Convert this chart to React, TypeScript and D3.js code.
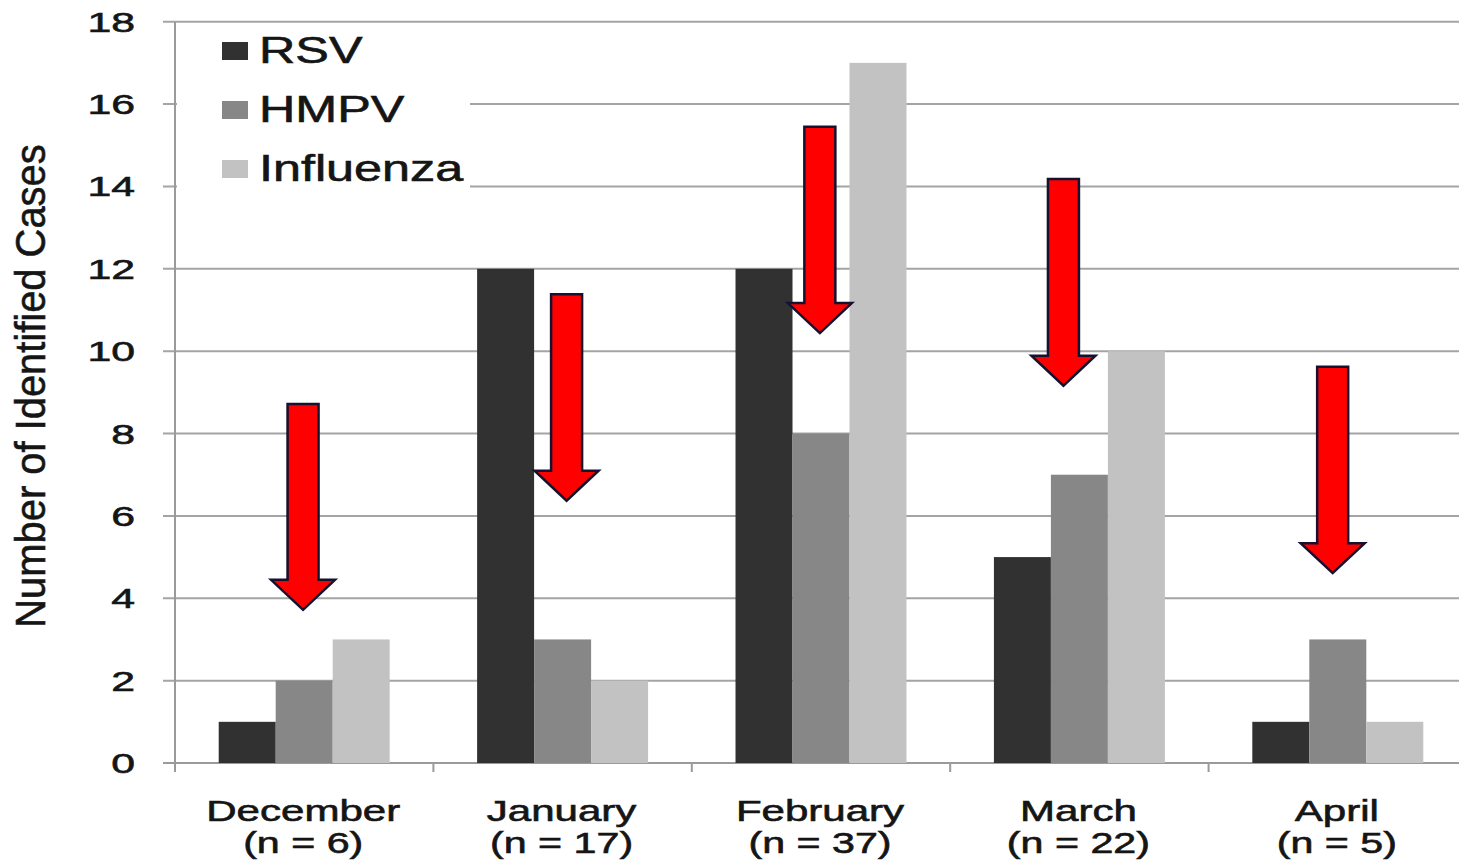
import * as d3 from 'd3';

// Identified cases by month
const months = ['December', 'January', 'February', 'March', 'April'];
const monthN = ['(n = 6)', '(n = 17)', '(n = 37)', '(n = 22)', '(n = 5)'];
const series = ['RSV', 'HMPV', 'Influenza'];
const rsv = [1, 12, 12, 5, 1];
const hmpv = [2, 3, 8, 7, 3];
const influenza = [3, 2, 17, 10, 1];
const yTicks = [0, 2, 4, 6, 8, 10, 12, 14, 16, 18];

// Red annotation arrows: top of the shaft and the tip, in case units,
// plus a small sideways shift measured in bar widths.
const arrowTop = [8.72, 11.38, 15.45, 14.18, 9.62];
const arrowTip = [3.72, 6.37, 10.44, 9.16, 4.61];
const arrowShift = [-0.02, 0.07, -0.02, -0.28, -0.09];

const seriesColor: Record<string, string> = {
  RSV: '#313131',
  HMPV: '#878787',
  Influenza: '#c2c2c2',
};

const W = 1459;
const H = 862;

export default function App() {
  const left = 175;
  const right = 1467; // plot runs a touch past the picture edge
  const top = 21.7;
  const bottom = 763;

  const x = d3.scaleBand<string>().domain(months).range([left, right]).padding(0);
  const xs = d3
    .scaleBand<string>()
    .domain(series)
    .range([0, x.bandwidth()])
    .paddingInner(0)
    .paddingOuter(0.767);
  const y = d3.scaleLinear().domain([0, 18]).range([bottom, top]);

  const values = [rsv, hmpv, influenza];
  const bw = xs.bandwidth();

  const font = '"Liberation Sans", Arial, sans-serif';
  const textColor = '#151515';
  const gridColor = '#a4a4a4';
  // the source is a blurry upscale, so its type reads a bit heavier
  const heavy = { stroke: textColor, strokeWidth: 0.6 };

  const shaftHalf = 15.5;
  const headHalf = 32;
  const headH = 30;

  const arrowPath = (i: number) => {
    const cx = (x(months[i]) ?? 0) + x.bandwidth() / 2 + arrowShift[i] * bw;
    const t = y(arrowTop[i]);
    const tip = y(arrowTip[i]);
    const p = d3.path();
    p.moveTo(cx - shaftHalf, t);
    p.lineTo(cx + shaftHalf, t);
    p.lineTo(cx + shaftHalf, tip - headH);
    p.lineTo(cx + headHalf, tip - headH);
    p.lineTo(cx, tip);
    p.lineTo(cx - headHalf, tip - headH);
    p.lineTo(cx - shaftHalf, tip - headH);
    p.closePath();
    return p.toString();
  };

  const legendRows = [51, 110, 169];

  return (
    <svg
      width={W}
      height={H}
      style={{ position: 'absolute', left: 0, top: 0, background: '#fff' }}
    >
      <rect x={0} y={0} width={W} height={H} fill="#fff" />

      {/* gridlines with the little tick stubs left of the axis */}
      {yTicks.map((v) => (
        <line
          key={`g-${v}`}
          x1={left - 12}
          x2={W}
          y1={y(v)}
          y2={y(v)}
          stroke={v === 0 ? '#9a9a9a' : gridColor}
          strokeWidth={2}
        />
      ))}

      {/* y axis */}
      <line x1={left} x2={left} y1={top} y2={bottom + 9} stroke="#9a9a9a" strokeWidth={2} />

      {/* category ticks on the x axis */}
      {months.slice(1).map((m) => (
        <line
          key={`xt-${m}`}
          x1={x(m)}
          x2={x(m)}
          y1={bottom}
          y2={bottom + 9}
          stroke="#9a9a9a"
          strokeWidth={2}
        />
      ))}

      {/* bars */}
      {months.map((m, i) => (
        <g key={m} transform={`translate(${x(m)},0)`}>
          {series.map((s, k) => (
            <rect
              key={s}
              x={xs(s)}
              y={y(values[k][i])}
              width={bw}
              height={y(0) - y(values[k][i])}
              fill={seriesColor[s]}
            />
          ))}
        </g>
      ))}

      {/* y tick labels */}
      {yTicks.map((v) => (
        <text
          key={`yl-${v}`}
          transform={`translate(${left - 40},${y(v) + 10}) scale(1.5,1)`}
          textAnchor="end"
          fontSize={28.5}
          fontFamily={font}
          fill={textColor}
          {...heavy}
        >
          {v}
        </text>
      ))}

      {/* y axis title */}
      <text
        transform={`translate(44.5,386) rotate(-90) scale(0.95,1)`}
        textAnchor="middle"
        fontSize={42}
        fontFamily={font}
        fill={textColor}
        {...heavy}
      >
        Number of Identified Cases
      </text>

      {/* month labels */}
      {months.map((m, i) => {
        const cx = (x(m) ?? 0) + x.bandwidth() / 2 - 1;
        return (
          <g key={`xl-${m}`}>
            <text
              transform={`translate(${cx},821) scale(1.45,1)`}
              textAnchor="middle"
              fontSize={29}
              fontFamily={font}
              fill={textColor}
              {...heavy}
            >
              {m}
            </text>
            <text
              transform={`translate(${cx},853) scale(1.42,1)`}
              textAnchor="middle"
              fontSize={29}
              fontFamily={font}
              fill={textColor}
              {...heavy}
            >
              {monthN[i]}
            </text>
          </g>
        );
      })}

      {/* legend, on a white box that hides the gridlines behind it */}
      <rect x={left + 2} y={28} width={293} height={164} fill="#fff" />
      {series.map((s, k) => (
        <g key={`lg-${s}`}>
          <rect x={222} y={legendRows[k] - 9} width={26} height={18} fill={seriesColor[s]} />
          <text
            transform={`translate(259,${legendRows[k] + 12}) scale(1.36,1)`}
            fontSize={37}
            fontFamily={font}
            fill={textColor}
            {...heavy}
          >
            {s}
          </text>
        </g>
      ))}

      {/* red arrows */}
      {months.map((m, i) => (
        <path
          key={`ar-${m}`}
          d={arrowPath(i)}
          fill="#ff0000"
          stroke="#16112e"
          strokeWidth={2.5}
          strokeLinejoin="miter"
        />
      ))}
    </svg>
  );
}
